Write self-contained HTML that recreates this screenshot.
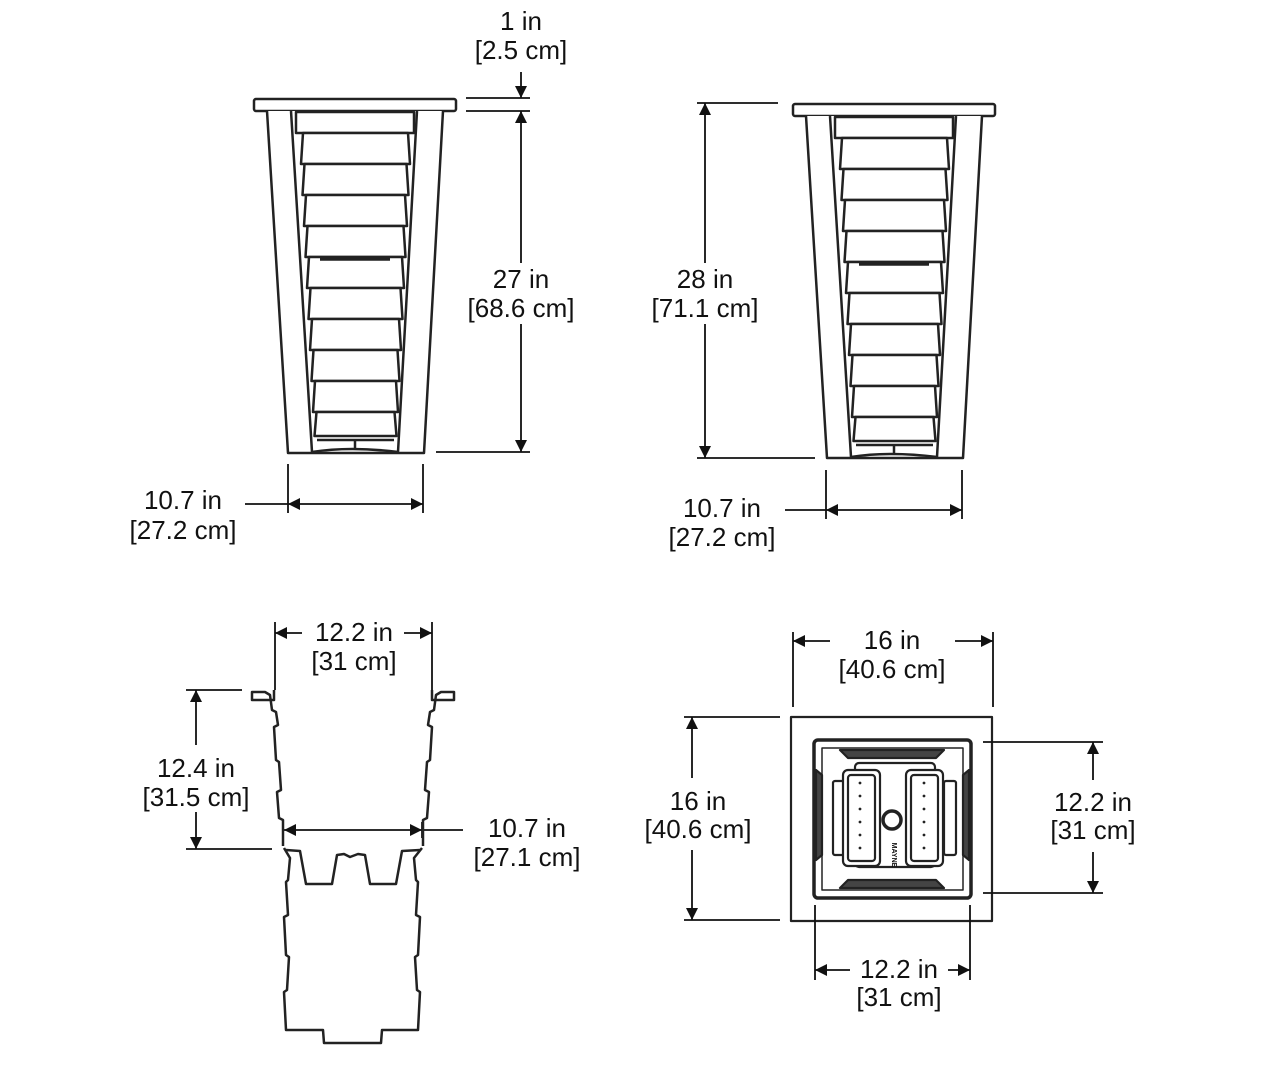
<!DOCTYPE html>
<html><head><meta charset="utf-8"><style>
html,body{margin:0;padding:0;background:#fff;}
svg{display:block}
text{font-family:"Liberation Sans",Arial,sans-serif;font-size:26px;fill:#111;text-anchor:middle}
</style></head><body>
<svg width="1280" height="1073" viewBox="0 0 1280 1073" xmlns="http://www.w3.org/2000/svg">
<defs>
<marker id="a" viewBox="0 0 10 10" refX="10" refY="5" markerWidth="16" markerHeight="12" markerUnits="userSpaceOnUse" orient="auto-start-reverse"><path d="M0,0 L10,5 L0,10 z" fill="#111"/></marker>
<g id="planter" fill="#fff" stroke="#222" stroke-width="2.5" stroke-linejoin="round">
<rect x="254" y="99" width="202" height="12" rx="2"/>
<path d="M267,111 L288,453 L424,453 L443,111"/>
<path d="M291,111 L312,452 M417,111 L398,452"/>
<path d="M312,452 Q350,446 398,452" fill="none"/>
<rect x="296" y="112" width="118" height="21"/>
<polygon points="303,133 408,133 410,164 301,164"/>
<polygon points="304.5,164 406.5,164 408.5,195 302.5,195"/>
<polygon points="306,195 405,195 407,226 304,226"/>
<polygon points="307.5,226 403.5,226 405.5,257 305.5,257"/>
<polygon points="309,257 402,257 404,288 307,288"/>
<polygon points="310.5,288 400.5,288 402.5,319 308.5,319"/>
<polygon points="312,319 399,319 401,350 310,350"/>
<polygon points="313.5,350 397.5,350 399.5,381 311.5,381"/>
<polygon points="315,381 396,381 398,412 313,412"/>
<polygon points="316.5,412 394.5,412 396.5,436 314.5,436"/>
<line x1="317" y1="440" x2="394" y2="440"/>
<line x1="355" y1="440" x2="355" y2="450"/>
<line x1="320" y1="259" x2="390" y2="259" stroke-width="3.5"/>
</g>
</defs>
<g fill="none" stroke="#111" stroke-width="1.8">
<use href="#planter"/>
<line x1="466" y1="98" x2="530" y2="98"/><line x1="466" y1="111" x2="530" y2="111"/>
<line x1="521" y1="72" x2="521" y2="98" marker-end="url(#a)"/>
<line x1="521" y1="111" x2="521" y2="263" marker-start="url(#a)"/>
<line x1="521" y1="324" x2="521" y2="452" marker-end="url(#a)"/>
<line x1="436" y1="452" x2="530" y2="452"/>
<line x1="288" y1="464" x2="288" y2="513"/><line x1="423" y1="464" x2="423" y2="513"/>
<line x1="245" y1="504" x2="288" y2="504"/>
<line x1="288" y1="504" x2="423" y2="504" marker-start="url(#a)" marker-end="url(#a)"/>
<use href="#planter" transform="translate(539,5)"/>
<line x1="697" y1="103" x2="778" y2="103"/><line x1="697" y1="458" x2="815" y2="458"/>
<line x1="705" y1="103" x2="705" y2="263" marker-start="url(#a)"/>
<line x1="705" y1="324" x2="705" y2="458" marker-end="url(#a)"/>
<line x1="826" y1="470" x2="826" y2="519"/><line x1="962" y1="470" x2="962" y2="519"/>
<line x1="785" y1="510" x2="826" y2="510"/>
<line x1="826" y1="510" x2="962" y2="510" marker-start="url(#a)" marker-end="url(#a)"/>
<line x1="275" y1="622" x2="275" y2="690"/><line x1="432" y1="622" x2="432" y2="690"/>
<line x1="275" y1="633" x2="302" y2="633" marker-start="url(#a)"/>
<line x1="404" y1="633" x2="432" y2="633" marker-end="url(#a)"/>
<line x1="186" y1="690" x2="242" y2="690"/><line x1="186" y1="849" x2="272" y2="849"/>
<line x1="196" y1="690" x2="196" y2="745" marker-start="url(#a)"/>
<line x1="196" y1="812" x2="196" y2="849" marker-end="url(#a)"/>
<line x1="284" y1="830" x2="422" y2="830" marker-start="url(#a)" marker-end="url(#a)"/>
<line x1="422" y1="830" x2="463" y2="830"/>
<line x1="283" y1="822" x2="283" y2="838"/><line x1="422" y1="822" x2="422" y2="838"/>
</g>
<g fill="none" stroke="#222" stroke-width="2.5" stroke-linejoin="round">
<path d="M274,690 L274,700 L272,700 L252,700 L252,692 L265,692 L270,695 L272,710 L276,712 L278,725 L274,727 L276,760 L279,762 L281,790 L277,792 L279,818 L283,820 L283,846"/>
<path d="M432,690 L432,700 L434,700 L454,700 L454,692 L441,692 L436,695 L434,710 L430,712 L428,725 L432,727 L430,760 L427,762 L425,790 L429,792 L427,818 L423,820 L423,846"/>
<path d="M284,848 L290,858 L288,880 L286,882 L288,915 L284,917 L286,955 L289,957 L287,990 L284,992 L286,1030 L323,1030 L324,1043 L381,1043 L382,1030 L418,1030 L420,992 L417,990 L415,957 L418,955 L420,917 L416,915 L418,882 L416,880 L414,858 L422,848"/>
<path d="M286,850 L300,851 L306,884 L332,884 L337,855 L344,854 L350,857 L358,854 L365,855 L370,884 L396,884 L402,851 L420,850"/>
</g>
<g fill="none" stroke="#222" stroke-width="2.2" stroke-linejoin="round">
<rect x="791" y="717" width="201" height="204"/>
<rect x="814" y="740" width="157" height="158" rx="4" stroke-width="3.5"/>
<path d="M822,748 L963,748 L963,890 L822,890 Z" stroke-width="1.5"/>
<path d="M840,750 L944,750 L936,758 L848,758 Z" fill="#444"/>
<path d="M840,888 L944,888 L936,880 L848,880 Z" fill="#444"/>
<path d="M816,770 L816,860 L822,855 L822,775 Z" fill="#444"/>
<path d="M969,770 L969,860 L963,855 L963,775 Z" fill="#444"/>
<rect x="855" y="763" width="80" height="104" rx="4"/>
<rect x="833" y="781" width="12" height="74" rx="2"/>
<rect x="944" y="781" width="12" height="74" rx="2"/>
<rect x="843" y="770" width="37" height="96" rx="5" fill="#fff"/>
<rect x="848" y="775" width="27" height="86" rx="3"/>
<rect x="906" y="770" width="37" height="96" rx="5" fill="#fff"/>
<rect x="911" y="775" width="27" height="86" rx="3"/>
<circle cx="892" cy="820" r="9" stroke-width="3.5"/>
</g>
<g fill="#222">
<circle cx="860" cy="783" r="1.4"/><circle cx="860" cy="796" r="1.4"/><circle cx="860" cy="809" r="1.4"/><circle cx="860" cy="822" r="1.4"/><circle cx="860" cy="835" r="1.4"/><circle cx="860" cy="848" r="1.4"/>
<circle cx="924" cy="783" r="1.4"/><circle cx="924" cy="796" r="1.4"/><circle cx="924" cy="809" r="1.4"/><circle cx="924" cy="822" r="1.4"/><circle cx="924" cy="835" r="1.4"/><circle cx="924" cy="848" r="1.4"/>
</g>
<text x="892" y="855" style="font-size:7px;font-weight:bold" transform="rotate(90 892 855)">MAYNE</text>
<g fill="none" stroke="#111" stroke-width="1.8">
<line x1="793" y1="632" x2="793" y2="707"/><line x1="993" y1="632" x2="993" y2="707"/>
<line x1="793" y1="641" x2="830" y2="641" marker-start="url(#a)"/>
<line x1="955" y1="641" x2="993" y2="641" marker-end="url(#a)"/>
<line x1="684" y1="717" x2="780" y2="717"/><line x1="684" y1="920" x2="780" y2="920"/>
<line x1="692" y1="717" x2="692" y2="778" marker-start="url(#a)"/>
<line x1="692" y1="850" x2="692" y2="920" marker-end="url(#a)"/>
<line x1="983" y1="742" x2="1103" y2="742"/><line x1="983" y1="893" x2="1103" y2="893"/>
<line x1="1093" y1="742" x2="1093" y2="780" marker-start="url(#a)"/>
<line x1="1093" y1="852" x2="1093" y2="893" marker-end="url(#a)"/>
<line x1="815" y1="905" x2="815" y2="980"/><line x1="970" y1="905" x2="970" y2="980"/>
<line x1="815" y1="970" x2="850" y2="970" marker-start="url(#a)"/>
<line x1="948" y1="970" x2="970" y2="970" marker-end="url(#a)"/>
</g>
<text x="521" y="30">1 in</text><text x="521" y="59">[2.5 cm]</text>
<text x="521" y="288">27 in</text><text x="521" y="317">[68.6 cm]</text>
<text x="183" y="509">10.7 in</text><text x="183" y="539">[27.2 cm]</text>
<text x="705" y="288">28 in</text><text x="705" y="317">[71.1 cm]</text>
<text x="722" y="517">10.7 in</text><text x="722" y="546">[27.2 cm]</text>
<text x="354" y="641">12.2 in</text><text x="354" y="670">[31 cm]</text>
<text x="196" y="777">12.4 in</text><text x="196" y="806">[31.5 cm]</text>
<text x="527" y="837">10.7 in</text><text x="527" y="866">[27.1 cm]</text>
<text x="892" y="649">16 in</text><text x="892" y="678">[40.6 cm]</text>
<text x="698" y="810">16 in</text><text x="698" y="838">[40.6 cm]</text>
<text x="1093" y="811">12.2 in</text><text x="1093" y="839">[31 cm]</text>
<text x="899" y="978">12.2 in</text><text x="899" y="1006">[31 cm]</text>
</svg>
</body></html>
